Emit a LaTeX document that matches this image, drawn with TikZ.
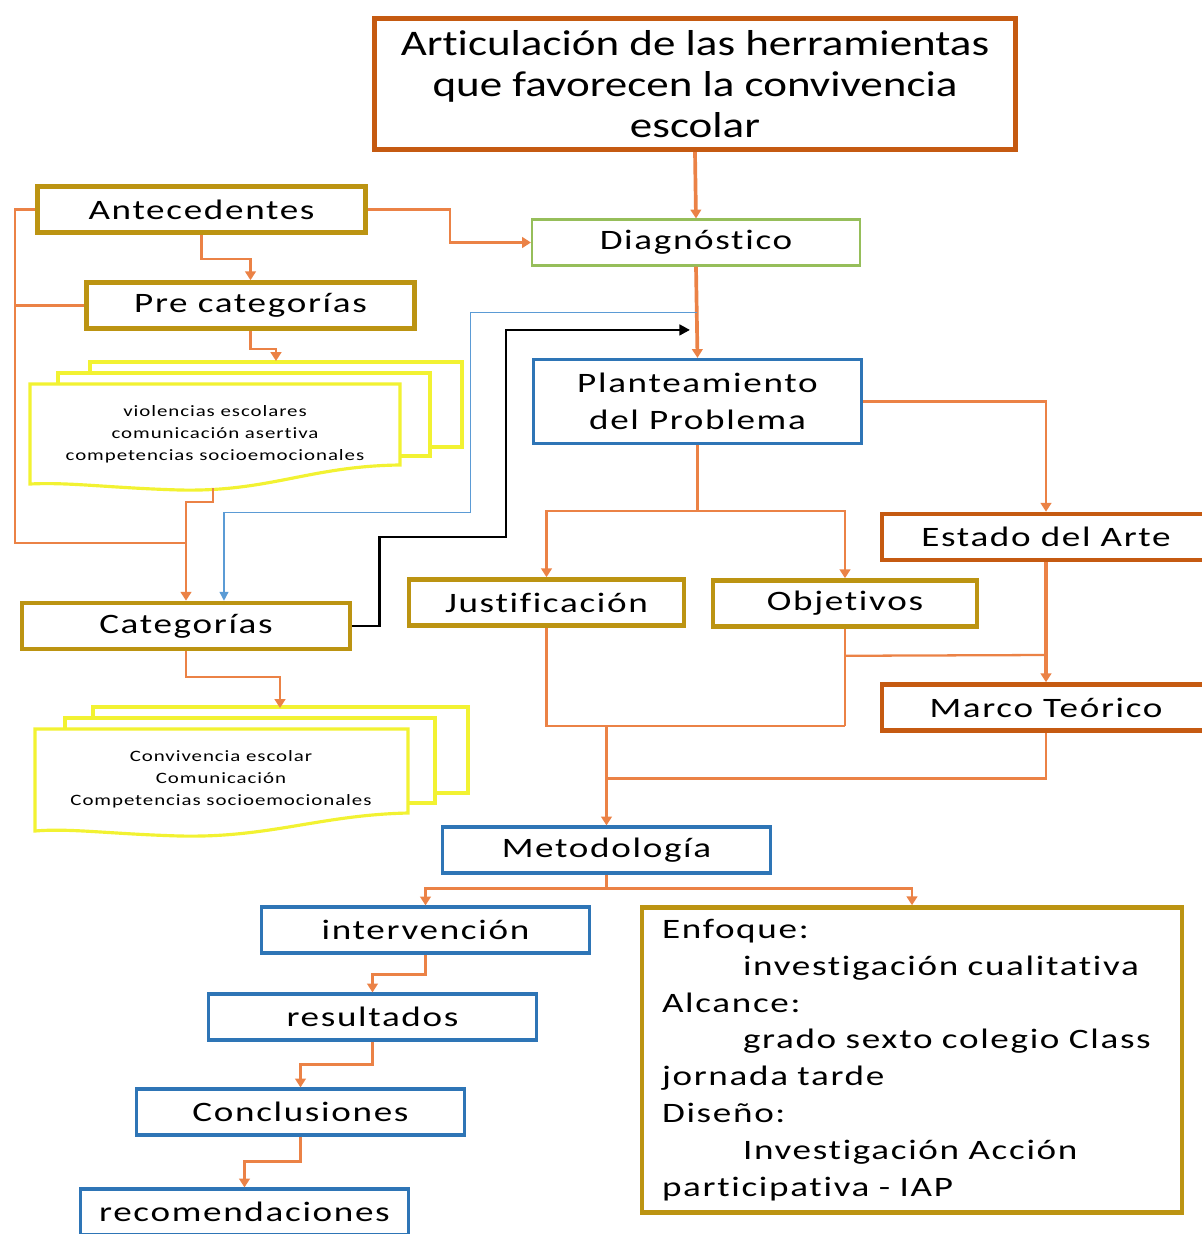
\documentclass[tikz,border=0pt]{standalone}
\usepackage{fontspec}
\setmainfont{Carlito}
\newfontfamily\labfont{Carlito}[FakeStretch=1.32,LetterSpace=6,Ligatures=NoCommon]
\newfontfamily\titfont{Carlito}[FakeStretch=1.25,Ligatures=NoCommon]
\usetikzlibrary{arrows.meta,positioning,calc}
\definecolor{titcolor}{RGB}{197,90,17}
\definecolor{goldcolor}{RGB}{188,148,18}
\definecolor{bluecolor}{RGB}{46,117,182}
\definecolor{greencolor}{RGB}{150,190,90}
\definecolor{linecolor}{RGB}{235,130,70}
\definecolor{doccolor}{RGB}{242,242,50}
\definecolor{thinblue}{RGB}{91,155,213}
\tikzset{
  box/.style      = {draw,fill=white,minimum width=6.56cm,minimum height=0.92cm,
                     inner sep=0pt,align=center,font=\fontsize{16}{21}\labfont},
  goldbox/.style  = {box,draw=goldcolor,line width=2.6pt},
  bluebox/.style  = {box,draw=bluecolor,line width=1.8pt},
  redbox/.style   = {box,draw=titcolor,line width=2.6pt},
  greenbox/.style = {box,draw=greencolor,line width=1.2pt},
  arrow/.style    = {-{Triangle[length=5pt,width=6pt]},draw=linecolor,line width=1.3pt},
  thickarrow/.style = {arrow,line width=2.1pt},
  link/.style     = {draw=linecolor,line width=1.3pt},
  docpage/.style  = {draw=doccolor,line width=1.8pt,fill=white},
  listtext/.style = {align=center,font=\fontsize{9}{12.5}\labfont},
}

\begin{document}
\begin{tikzpicture}[x=0.02cm,y=-0.02cm]
  \useasboundingbox (0,0) rectangle (1202,1234);

  % main column
  \node[redbox,line width=3pt,minimum width=12.82cm,minimum height=2.62cm,
        font=\fontsize{20.5}{23.3}\titfont] (title) at (695,84)
        {Articulación de las herramientas\\que favorecen la convivencia\\escolar};
  \node[greenbox] (diag) at (696,242.5) {Diagnóstico};
  \node[bluebox,minimum height=1.68cm] (plant) at (697.5,401.5) {Planteamiento\\del Problema};
  \node[goldbox,minimum width=5.5cm] (justif) at (546.5,602.5) {Justificación};
  \node[goldbox,minimum width=5.28cm] (objet) at (845,603.5) {Objetivos};
  \node[redbox] (estado) at (1046,537) {Estado del Arte};
  \node[redbox] (marco) at (1046,707.5) {Marco Teórico};
  \node[bluebox] (metod) at (606.5,850) {Metodología};

  % left column
  \node[goldbox] (antec) at (201.5,209.5) {Antecedentes};
  \node[goldbox] (precat) at (250.5,305.5) {Pre categorías};
  \node[goldbox] (categ) at (186,626) {Categorías};

  % stacked lists
  \draw[docpage] (90,362) rectangle (462,447);
  \draw[docpage] (58,373) rectangle (430,456);
  \draw[docpage] (30,384) -- (400,384) -- (400,465)
       .. controls (310,466) and (270,492) .. (180,490)
       .. controls (110,488) and (70,482) .. (30,484) -- cycle;
  \node[listtext] (prelist) at (215,434)
       {violencias escolares\\comunicación asertiva\\competencias socioemocionales};
  \coordinate (docAin) at (276,361);
  \coordinate (docAout) at (213,488);

  \draw[docpage] (93,707) rectangle (468,793);
  \draw[docpage] (65,718) rectangle (435,803);
  \draw[docpage] (35,729) -- (408,729) -- (408,813)
       .. controls (320,815) and (270,838) .. (180,836)
       .. controls (110,834) and (70,828) .. (35,831) -- cycle;
  \node[listtext] (catlist) at (221,779)
       {Convivencia escolar\\Comunicación\\Competencias socioemocionales};
  \coordinate (docBin) at (280,708);

  % bottom steps
  \node[bluebox] (interv) at (425.5,930) {intervención};
  \node[bluebox] (result) at (372.5,1017) {resultados};
  \node[bluebox] (concl) at (300.5,1112) {Conclusiones};
  \node[bluebox] (recom) at (244.5,1212) {recomendaciones};
  \node[goldbox,minimum width=10.74cm,minimum height=6.1cm,text width=10.0cm,
        align=left,inner xsep=0.4cm] (enfoque) at (912,1060)
       {Enfoque:\\
        \hspace*{1.62cm}investigación cualitativa\\
        Alcance:\\
        \hspace*{1.62cm}grado sexto colegio Class\\
        jornada tarde\\
        Diseño:\\
        \hspace*{1.62cm}Investigación Acción\\
        participativa - IAP};

  % connectors
  \draw[thickarrow] (title.south) -- (diag.north);
  \draw[thickarrow] (diag.south) -- (plant.north);
  \draw[arrow] (antec.east) -- ++(82,0) |- (diag.west);
  \draw[arrow] (antec.south) -- ++(0,24) -| (precat.north);
  \draw[link] (antec.west) -| (15,543) -- (categ.north |- 0,543);
  \draw[link] (precat.west) -- (15,305.5);
  \draw[arrow] (precat.south) -- ++(0,18) -| (docAin);
  \draw[arrow] (docAout) -- ++(0,14) -| (categ.north);
  \draw[arrow] (categ.south) -- ++(0,26) -| (docBin);

  \coordinate (tap) at ($(diag.south)!.5!(plant.north)$);
  \draw[-{Triangle[length=5pt,width=5pt]},thinblue,line width=0.8pt]
       (tap) -- ++(-226,0) -- ++(0,200) -| ([xshift=0.76cm]categ.north);
  \coordinate (probIn) at ([xshift=-0.15cm,yshift=0.56cm]plant.north);
  \draw[-{Triangle[length=6pt,width=6pt]},black,line width=1.5pt]
       (categ.east) -- ++(27,0) |- (506,537) |- (probIn);

  \draw[arrow] (plant.east) -| (estado.north);
  \draw[link] (plant.south) -- ++(0,66) coordinate (pj);
  \draw[arrow] (pj) -| (justif.north);
  \draw[arrow] (pj) -| (objet.north);
  \draw[thickarrow] (estado.south) -- (marco.north);
  \draw[link] (objet.south) -- ++(0,97) coordinate (oj);
  \draw[link] (justif.south) |- (oj);
  \draw[link] (objet.south) ++(0,27) -- (estado.south |- 0,655);
  \draw[link] (marco.south) |- ([yshift=0.94cm]metod.north);
  \draw[arrow] (metod.north |- oj) -- (metod.north);

  \draw[link] (metod.south) -- ++(0,14) coordinate (mj);
  \draw[arrow] (mj) -| (interv.north);
  \draw[arrow] (mj) -| (enfoque.north);
  \draw[arrow] (interv.south) -- ++(0,20) -| (result.north);
  \draw[arrow] (result.south) -- ++(0,23) -| (concl.north);
  \draw[arrow] (concl.south) -- ++(0,25) -| (recom.north);
\end{tikzpicture}
\end{document}
